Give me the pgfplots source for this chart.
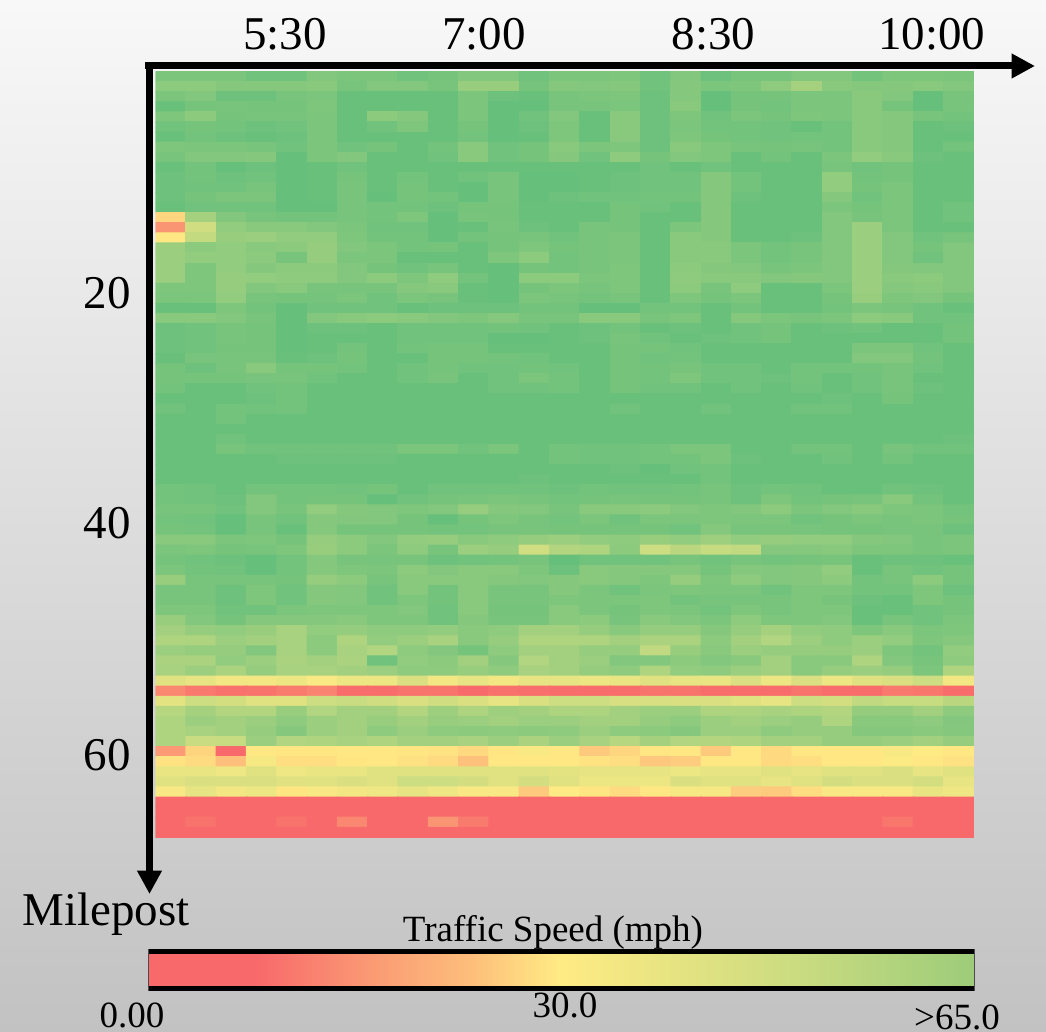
\documentclass[border=0pt]{standalone}
\usepackage{pgfplots}
\pgfplotsset{compat=1.18}
\usepackage{fontspec}
\setmainfont{Liberation Serif}
\usetikzlibrary{arrows.meta}
\definecolor{bgtop}{HTML}{F8F8F8}
\definecolor{bgbot}{HTML}{C2C2C2}
\definecolor{cbR}{HTML}{F8696B}
\definecolor{cbS}{HTML}{FA9A74}
\definecolor{cbO}{HTML}{FDBE7B}
\definecolor{cbY}{HTML}{FFEB84}
\definecolor{cbYG}{HTML}{C9DB80}
\definecolor{cbG}{HTML}{9DCC7A}
\pgfdeclarehorizontalshading{speedbar}{100bp}{color(0bp)=(cbR); color(31.5bp)=(cbR); color(38.5bp)=(cbS); color(44.5bp)=(cbO); color(50bp)=(cbY); color(64.5bp)=(cbYG); color(75bp)=(cbG); color(100bp)=(cbG)}
\begin{document}
\begin{tikzpicture}
\useasboundingbox (0pt,0pt) rectangle (313.8pt,-309.6pt);
\shade[top color=bgtop, bottom color=bgbot] (0pt,0pt) rectangle (313.8pt,-309.6pt);
\begin{axis}[
  at={(46.71pt,-251.25pt)}, anchor=south west,
  scale only axis, width=245.49pt, height=229.74pt,
  xmin=-0.5, xmax=26.5, ymin=-0.5, ymax=75.5, y dir=reverse,
  axis line style={draw=none}, tick style={draw=none}, major tick length=0pt,
  colormap={excel}{rgb255=(248,105,107) rgb255=(255,235,132) rgb255=(99,190,123)},
  point meta min=0, point meta max=100,
  xtick={3.77,10.33,17.9,25.1}, xticklabels={5:30,7:00,8:30,10:00}, xticklabel pos=upper,
  ytick={21.48,44.32,67.36}, yticklabels={20,40,60},
  ticklabel style={font=\fontsize{14.1}{16}\selectfont},
  xticklabel style={yshift=3pt},
  yticklabel style={xshift=-4pt},
]
\addplot[matrix plot*, mesh/cols=27, mesh/rows=76, point meta=explicit]
 table[header=false, row sep=\\, x expr={\coordindex-27*floor((\coordindex+0.5)/27)}, y expr={floor((\coordindex+0.5)/27)}, meta index=0] {
92\\92\\92\\96\\96\\90\\92\\92\\96\\94\\90\\90\\96\\92\\92\\91\\96\\90\\97\\93\\93\\90\\90\\95\\91\\91\\92\\
87\\87\\89\\89\\89\\88\\93\\90\\90\\93\\83\\83\\94\\89\\90\\89\\96\\89\\92\\91\\86\\79\\88\\89\\89\\88\\90\\
92\\90\\97\\97\\93\\92\\98\\98\\98\\98\\92\\97\\98\\93\\92\\91\\97\\89\\99\\94\\94\\92\\92\\88\\90\\99\\93\\
98\\94\\93\\94\\94\\91\\98\\98\\98\\98\\92\\99\\99\\93\\93\\92\\97\\88\\99\\94\\95\\92\\92\\88\\94\\99\\93\\
91\\87\\94\\93\\93\\92\\98\\87\\89\\98\\92\\99\\96\\90\\98\\88\\97\\91\\96\\92\\94\\91\\92\\88\\89\\93\\95\\
96\\94\\95\\97\\96\\92\\98\\96\\91\\98\\94\\99\\97\\91\\98\\88\\97\\92\\95\\95\\96\\98\\95\\88\\89\\98\\97\\
98\\95\\97\\98\\97\\92\\98\\98\\98\\98\\95\\99\\98\\91\\98\\88\\97\\91\\94\\95\\96\\95\\95\\88\\89\\98\\98\\
91\\92\\92\\93\\96\\92\\96\\94\\98\\95\\88\\96\\94\\88\\92\\91\\97\\88\\91\\93\\94\\93\\95\\88\\89\\98\\95\\
93\\90\\90\\89\\99\\92\\90\\98\\98\\96\\88\\96\\94\\89\\96\\86\\94\\90\\91\\98\\95\\98\\92\\85\\88\\97\\98\\
98\\95\\99\\97\\99\\98\\96\\98\\98\\98\\98\\98\\98\\98\\98\\98\\96\\98\\96\\98\\98\\98\\93\\96\\94\\98\\98\\
97\\95\\97\\96\\99\\98\\94\\98\\95\\98\\96\\93\\99\\99\\98\\97\\96\\96\\89\\95\\98\\98\\85\\95\\94\\98\\98\\
97\\96\\96\\93\\99\\98\\93\\98\\94\\98\\99\\93\\99\\99\\98\\97\\96\\96\\89\\95\\98\\98\\85\\94\\92\\98\\98\\
97\\94\\92\\92\\99\\98\\93\\99\\94\\95\\99\\93\\99\\97\\96\\96\\95\\95\\89\\97\\98\\98\\89\\96\\92\\98\\98\\
98\\96\\96\\96\\99\\99\\93\\95\\95\\97\\94\\94\\98\\98\\98\\94\\96\\98\\89\\98\\98\\98\\92\\94\\92\\98\\96\\
42\\79\\90\\93\\95\\95\\93\\95\\91\\99\\93\\94\\98\\98\\98\\94\\98\\98\\89\\98\\98\\98\\90\\93\\92\\98\\96\\
17\\65\\85\\88\\88\\90\\92\\96\\96\\99\\98\\93\\97\\98\\93\\94\\98\\92\\89\\98\\98\\98\\90\\82\\92\\98\\98\\
49\\69\\83\\82\\85\\85\\91\\95\\95\\99\\95\\94\\93\\96\\93\\92\\98\\88\\89\\98\\98\\97\\90\\82\\90\\96\\93\\
82\\87\\85\\88\\87\\84\\90\\92\\95\\94\\98\\94\\91\\94\\93\\92\\98\\88\\88\\92\\95\\93\\90\\82\\90\\94\\90\\
82\\85\\85\\87\\93\\84\\92\\92\\98\\98\\98\\91\\87\\95\\93\\92\\98\\88\\88\\92\\95\\93\\90\\82\\90\\96\\90\\
82\\91\\85\\89\\87\\87\\90\\94\\96\\93\\98\\99\\94\\95\\93\\91\\98\\87\\89\\90\\93\\92\\90\\82\\89\\90\\90\\
82\\91\\84\\85\\86\\86\\90\\87\\91\\86\\95\\99\\87\\87\\92\\91\\98\\86\\88\\88\\90\\89\\90\\82\\88\\87\\90\\
91\\91\\84\\90\\88\\93\\93\\93\\89\\88\\98\\99\\94\\92\\93\\91\\98\\87\\93\\86\\98\\98\\92\\82\\89\\88\\90\\
92\\92\\85\\93\\94\\94\\92\\96\\92\\93\\98\\99\\92\\93\\95\\93\\98\\91\\94\\92\\98\\98\\94\\83\\91\\90\\94\\
98\\98\\91\\95\\99\\96\\96\\96\\98\\97\\97\\97\\95\\95\\99\\99\\95\\95\\98\\95\\98\\98\\95\\92\\93\\96\\98\\
88\\88\\90\\93\\99\\90\\88\\87\\88\\90\\91\\89\\93\\93\\88\\88\\93\\91\\98\\89\\92\\93\\92\\87\\88\\96\\96\\
97\\96\\93\\94\\99\\97\\97\\98\\96\\96\\96\\95\\96\\98\\97\\95\\98\\97\\98\\96\\94\\98\\97\\96\\98\\98\\95\\
97\\96\\93\\94\\99\\98\\98\\98\\96\\96\\96\\99\\99\\98\\97\\93\\96\\98\\97\\96\\94\\98\\98\\98\\98\\98\\95\\
97\\96\\94\\94\\99\\98\\95\\98\\95\\94\\94\\98\\98\\98\\98\\94\\94\\96\\98\\98\\98\\98\\98\\92\\92\\96\\98\\
98\\93\\93\\93\\98\\97\\94\\98\\98\\94\\94\\95\\96\\98\\98\\94\\96\\95\\98\\98\\98\\98\\98\\90\\90\\95\\98\\
94\\97\\93\\88\\94\\94\\95\\98\\96\\94\\96\\96\\95\\96\\98\\94\\95\\93\\96\\96\\98\\95\\95\\95\\93\\96\\98\\
94\\94\\94\\93\\93\\96\\98\\98\\96\\93\\98\\96\\92\\95\\98\\94\\95\\91\\96\\96\\97\\95\\98\\96\\93\\98\\98\\
95\\98\\98\\96\\95\\98\\98\\98\\98\\98\\98\\96\\96\\95\\98\\94\\96\\96\\98\\96\\98\\96\\98\\96\\93\\97\\98\\
98\\98\\98\\97\\95\\98\\98\\98\\98\\98\\98\\98\\98\\98\\98\\98\\98\\98\\98\\98\\98\\98\\97\\98\\94\\98\\98\\
96\\98\\95\\96\\95\\98\\98\\98\\98\\98\\98\\98\\98\\98\\98\\96\\98\\98\\96\\98\\98\\96\\96\\98\\98\\98\\98\\
98\\98\\95\\98\\98\\98\\98\\98\\98\\98\\98\\98\\98\\98\\98\\98\\98\\98\\98\\98\\98\\98\\98\\98\\98\\98\\98\\
98\\98\\98\\98\\98\\98\\98\\98\\98\\98\\98\\98\\98\\98\\98\\98\\98\\98\\98\\98\\98\\98\\98\\98\\98\\98\\98\\
98\\98\\96\\98\\98\\98\\98\\98\\98\\98\\98\\98\\98\\98\\98\\98\\98\\98\\98\\98\\98\\98\\98\\98\\98\\98\\97\\
98\\98\\93\\96\\96\\96\\96\\96\\92\\92\\96\\92\\98\\95\\96\\96\\95\\92\\92\\98\\98\\95\\95\\98\\93\\96\\96\\
98\\98\\98\\98\\97\\97\\97\\97\\98\\98\\98\\98\\98\\95\\96\\96\\95\\95\\92\\97\\98\\98\\96\\98\\95\\98\\98\\
98\\98\\98\\98\\98\\98\\98\\98\\98\\98\\98\\98\\98\\98\\98\\97\\99\\96\\95\\98\\98\\98\\98\\98\\98\\98\\98\\
98\\98\\98\\98\\98\\98\\98\\98\\98\\98\\98\\98\\97\\98\\98\\98\\98\\98\\95\\98\\98\\98\\98\\98\\98\\98\\98\\
95\\96\\98\\95\\95\\95\\96\\94\\98\\96\\96\\96\\96\\97\\95\\96\\96\\95\\93\\97\\95\\96\\98\\98\\96\\97\\98\\
95\\96\\97\\90\\95\\94\\94\\99\\96\\94\\93\\92\\93\\95\\94\\93\\94\\94\\93\\97\\91\\95\\94\\93\\88\\95\\98\\
93\\93\\96\\90\\93\\85\\89\\90\\91\\90\\84\\89\\90\\93\\88\\88\\87\\90\\91\\90\\87\\92\\90\\88\\91\\92\\95\\
95\\96\\99\\93\\96\\89\\90\\90\\94\\99\\94\\91\\93\\95\\92\\96\\92\\92\\91\\92\\92\\96\\94\\92\\93\\92\\94\\
94\\95\\99\\93\\98\\89\\94\\94\\94\\95\\95\\93\\93\\94\\94\\94\\94\\96\\89\\93\\93\\93\\94\\94\\93\\93\\97\\
88\\88\\92\\91\\94\\84\\87\\90\\85\\84\\88\\86\\84\\82\\85\\86\\83\\85\\81\\85\\84\\85\\85\\89\\90\\93\\92\\
92\\91\\94\\93\\91\\83\\87\\92\\86\\93\\82\\84\\65\\74\\76\\87\\66\\72\\68\\70\\89\\89\\88\\91\\91\\93\\92\\
94\\96\\97\\99\\95\\89\\93\\93\\93\\97\\96\\95\\93\\99\\96\\96\\96\\93\\96\\93\\95\\94\\93\\98\\97\\97\\98\\
92\\95\\96\\99\\95\\89\\91\\92\\87\\90\\88\\88\\91\\97\\88\\89\\89\\89\\94\\89\\90\\89\\85\\98\\93\\96\\94\\
83\\93\\93\\93\\94\\84\\87\\93\\88\\88\\88\\89\\90\\89\\88\\89\\91\\84\\91\\86\\90\\89\\87\\95\\93\\87\\94\\
93\\93\\97\\91\\96\\89\\90\\96\\88\\95\\88\\93\\93\\89\\92\\96\\92\\91\\92\\92\\96\\91\\91\\95\\95\\91\\97\\
93\\93\\97\\91\\96\\89\\90\\96\\91\\95\\88\\93\\93\\91\\92\\92\\91\\95\\93\\93\\93\\91\\93\\97\\98\\91\\94\\
91\\91\\96\\96\\92\\91\\91\\91\\90\\96\\88\\94\\94\\88\\92\\94\\91\\92\\95\\91\\93\\91\\91\\98\\98\\96\\94\\
83\\90\\94\\89\\89\\89\\88\\91\\91\\96\\89\\93\\93\\88\\87\\93\\88\\90\\92\\86\\91\\91\\90\\98\\93\\96\\92\\
80\\84\\85\\83\\78\\85\\84\\86\\86\\85\\88\\86\\80\\80\\84\\88\\84\\84\\89\\84\\79\\85\\86\\91\\88\\92\\91\\
76\\76\\82\\80\\78\\87\\76\\85\\82\\78\\88\\84\\76\\76\\76\\80\\77\\77\\87\\80\\75\\82\\86\\82\\85\\91\\89\\
82\\84\\84\\90\\78\\87\\78\\75\\86\\90\\94\\86\\80\\80\\84\\84\\70\\83\\88\\82\\84\\84\\84\\82\\91\\95\\85\\
77\\77\\85\\82\\77\\80\\77\\96\\85\\87\\80\\89\\75\\80\\82\\90\\90\\87\\90\\88\\80\\88\\88\\76\\90\\93\\86\\
78\\82\\77\\84\\78\\78\\80\\82\\86\\86\\83\\86\\78\\80\\84\\86\\76\\85\\86\\82\\80\\88\\84\\82\\84\\92\\76\\
60\\58\\54\\54\\56\\52\\56\\56\\62\\54\\58\\54\\58\\58\\56\\57\\60\\58\\57\\62\\56\\62\\56\\60\\62\\66\\54\\
12\\6\\3\\4\\7\\10\\1\\1\\4\\4\\0\\3\\2\\1\\1\\1\\4\\4\\1\\1\\1\\4\\1\\1\\6\\5\\1\\
59\\66\\64\\60\\60\\66\\67\\65\\62\\65\\62\\58\\62\\66\\66\\63\\63\\62\\62\\60\\58\\66\\64\\70\\68\\68\\72\\
73\\79\\74\\74\\83\\75\\80\\80\\74\\81\\76\\81\\80\\76\\76\\80\\82\\82\\76\\76\\78\\76\\74\\84\\84\\80\\86\\
76\\82\\80\\82\\86\\82\\80\\83\\80\\83\\82\\80\\82\\82\\80\\80\\84\\86\\82\\80\\82\\84\\76\\88\\88\\86\\90\\
76\\78\\80\\84\\89\\82\\80\\86\\82\\86\\87\\86\\87\\86\\82\\86\\87\\89\\82\\82\\86\\84\\84\\89\\89\\88\\89\\
76\\67\\68\\82\\75\\76\\78\\76\\80\\80\\78\\82\\77\\82\\78\\73\\79\\75\\74\\76\\80\\80\\84\\84\\82\\80\\84\\
19\\41\\0\\49\\48\\48\\49\\49\\48\\47\\43\\48\\52\\49\\37\\42\\48\\49\\37\\49\\43\\49\\49\\49\\52\\50\\49\\
47\\44\\33\\53\\45\\45\\48\\49\\46\\44\\34\\49\\49\\49\\47\\45\\36\\38\\49\\49\\43\\45\\49\\49\\51\\49\\46\\
57\\57\\55\\60\\55\\57\\57\\60\\60\\60\\60\\60\\60\\59\\58\\58\\58\\56\\58\\58\\60\\58\\60\\60\\62\\58\\60\\
60\\62\\62\\62\\60\\60\\62\\60\\66\\66\\64\\60\\64\\60\\56\\56\\56\\62\\60\\60\\58\\60\\64\\62\\62\\64\\58\\
52\\58\\54\\56\\48\\52\\54\\55\\58\\55\\52\\52\\37\\50\\48\\44\\49\\53\\53\\38\\37\\45\\52\\52\\52\\57\\55\\
0\\0\\0\\0\\0\\0\\0\\0\\0\\0\\0\\0\\0\\0\\0\\0\\0\\0\\0\\0\\0\\0\\0\\0\\0\\0\\0\\
0\\0\\0\\0\\0\\0\\0\\0\\0\\0\\0\\0\\0\\0\\0\\0\\0\\0\\0\\0\\0\\0\\0\\0\\0\\0\\0\\
0\\4\\0\\0\\4\\0\\12\\0\\0\\17\\7\\0\\0\\0\\0\\0\\0\\0\\0\\0\\0\\0\\0\\0\\5\\0\\0\\
0\\0\\0\\0\\0\\0\\0\\0\\0\\0\\0\\0\\0\\0\\0\\0\\0\\0\\0\\0\\0\\0\\0\\0\\0\\0\\0\\
};
\end{axis}
\begin{scope}[x=0.3pt,y=-0.3pt]
\draw[line width=2.1pt, -{Triangle[length=7pt,width=7pt]}] (145,66) -- (1035,66);
\draw[line width=2.1pt, -{Triangle[length=7pt,width=7pt]}] (149.5,62) -- (149.5,894);
\shade[shading=speedbar] (148,953) rectangle (974,987);
\draw[line width=1.45pt] (148,951.5) -- (974,951.5);
\draw[line width=1.45pt] (148,988.5) -- (974,988.5);
\draw[line width=0.3pt, black!70] (148,949) -- (148,991) (974,949) -- (974,991);
\node[anchor=base west, inner sep=0pt, font=\fontsize{14.1}{16}\selectfont] at (22,925) {Milepost};
\node[anchor=base, inner sep=0pt, font=\fontsize{11.1}{13}\selectfont] at (553,941.7) {Traffic Speed (mph)};
\node[anchor=base, inner sep=0pt, font=\fontsize{11.1}{13}\selectfont] at (565,1017.7) {30.0};
\node[anchor=base, inner sep=0pt, font=\fontsize{11.1}{13}\selectfont] at (132,1027) {0.00};
\node[anchor=base, inner sep=0pt, font=\fontsize{11.1}{13}\selectfont] at (957,1029) {\textgreater65.0};
\end{scope}
\end{tikzpicture}
\end{document}
